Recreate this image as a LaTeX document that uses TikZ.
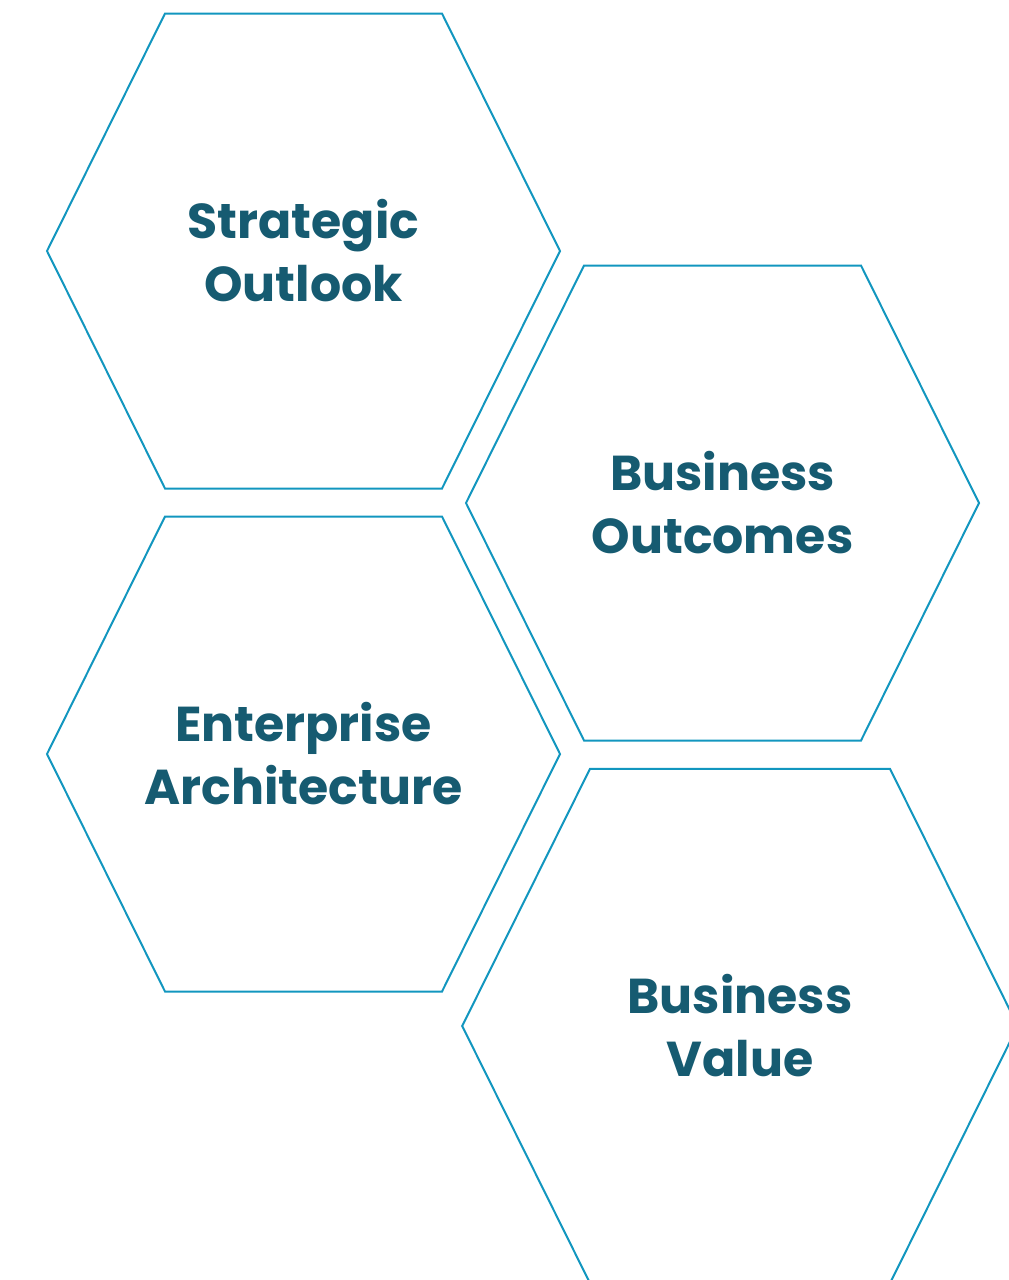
\documentclass[tikz,border=0pt]{standalone}
\usepackage{fontspec}
\setmainfont{Poppins}
\usepackage{xcolor}
\usepackage{tikz}
\usetikzlibrary{positioning,calc}

\definecolor{hexblue}{HTML}{1296BF}
\definecolor{hextext}{HTML}{165B71}

% hexagon cell: name, center x, center y, scale, label
\newcommand{\hexcell}[5]{%
    \node [cell] (#1) at (#2,#3) {#5};
    \draw [hexline, shift={(#1.center)}, scale=#4]
        (-256.5,0) -- (-138.5,-237.5) -- (138.5,-237.5) -- (256.5,0)
        -- (138.5,237.5) -- (-138.5,237.5) -- cycle;
}

\begin{document}
\begin{tikzpicture}[x=1pt, y=-1pt,
    cell/.style={align=center, inner sep=0pt, text=hextext,
        font=\fontsize{49}{63}\selectfont\bfseries},
    hexline/.style={draw=hexblue, line width=2pt, line join=miter}]
    \clip (0,0) rectangle (1009,1280);

    \hexcell{strat}{303.5}{251}{1}{Strategic\\Outlook}
    \hexcell{outc}{722.5}{503}{1}{Business\\Outcomes}
    \hexcell{arch}{303.5}{754}{1}{Enterprise\\Architecture}
    \hexcell{value}{740}{1026}{1.083}{Business\\Value}
\end{tikzpicture}
\end{document}
